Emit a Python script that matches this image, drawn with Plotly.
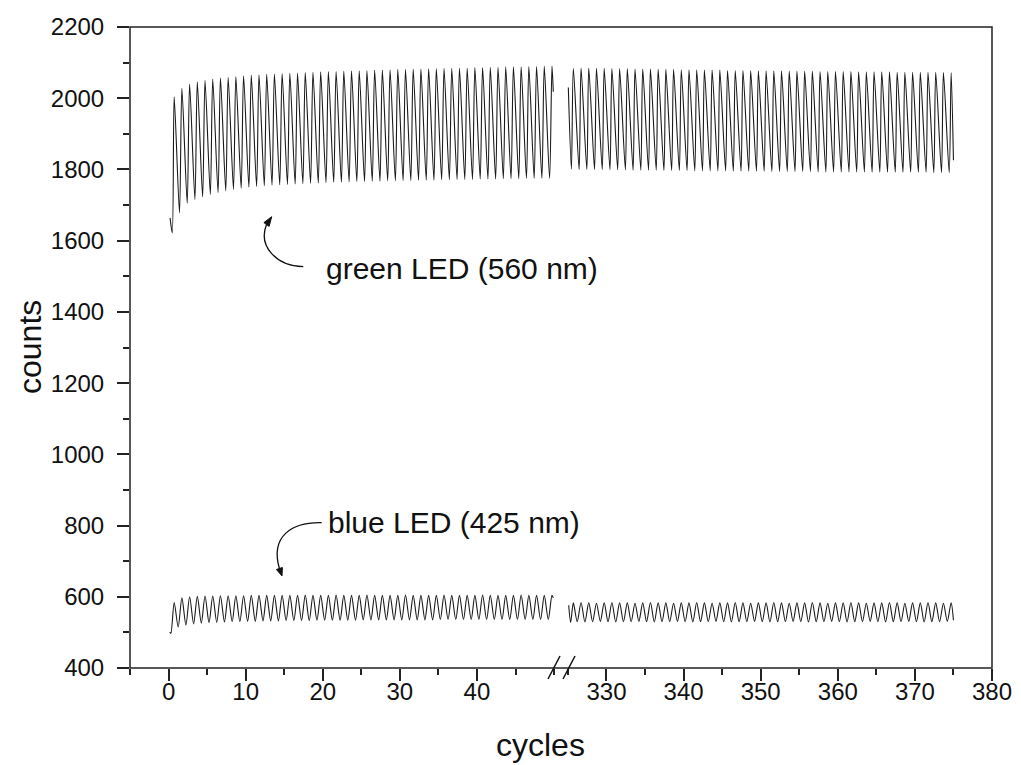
import plotly.graph_objects as go

# ---------------- data ----------------
# green LED, first segment: start points, per-cycle maxima and minima, end point
green_left_start_x = [0.2, 0.48]
green_left_start_y = [1664, 1622]
green_left_peaks = [2004, 2028, 2040, 2046, 2050, 2054, 2057, 2059, 2061, 2063,
                    2065, 2066, 2067, 2068, 2069, 2070, 2071, 2072, 2073, 2074,
                    2075, 2075, 2076, 2077, 2077, 2078, 2079, 2079, 2080, 2081,
                    2081, 2082, 2082, 2083, 2083, 2084, 2084, 2085, 2085, 2086,
                    2086, 2087, 2087, 2088, 2088, 2088, 2089, 2089, 2090, 2090]
green_left_troughs = [1678, 1705, 1716, 1723, 1730, 1735, 1740, 1744, 1747, 1750,
                      1752, 1754, 1756, 1757, 1758, 1759, 1760, 1761, 1762, 1763,
                      1764, 1764, 1765, 1766, 1766, 1767, 1767, 1768, 1768, 1769,
                      1769, 1770, 1770, 1770, 1771, 1771, 1772, 1772, 1772, 1773,
                      1773, 1773, 1774, 1774, 1774, 1775, 1775, 1775, 1775]
green_left_end = (49.9, 2018)

# green LED, second segment
green_right_start = (325.05, 2030)
green_right_peaks = [2084, 2085, 2085, 2084, 2084, 2083, 2083, 2083, 2082, 2082,
                     2082, 2081, 2081, 2081, 2080, 2080, 2080, 2079, 2079, 2079,
                     2078, 2078, 2078, 2078, 2077, 2077, 2077, 2077, 2076, 2076,
                     2076, 2076, 2075, 2075, 2075, 2075, 2075, 2074, 2074, 2074,
                     2074, 2074, 2073, 2073, 2073, 2073, 2073, 2073, 2072, 2072]
green_right_troughs = [1801, 1800, 1800, 1800, 1799, 1799, 1799, 1799, 1798, 1798,
                       1798, 1798, 1797, 1797, 1797, 1797, 1796, 1796, 1796, 1796,
                       1796, 1795, 1795, 1795, 1795, 1795, 1794, 1794, 1794, 1794,
                       1794, 1794, 1793, 1793, 1793, 1793, 1793, 1793, 1793, 1792,
                       1792, 1792, 1792, 1792, 1792, 1792, 1792, 1791, 1791, 1791]
green_right_end = (375.0, 1826)

# blue LED, first segment
blue_left_start_x = [0.15, 0.3]
blue_left_start_y = [501, 497]
blue_left_peaks = [584, 597, 600, 601, 602, 602, 603, 603, 603, 603,
                   604, 604, 604, 604, 604, 604, 604, 605, 604, 604,
                   604, 605, 604, 604, 604, 605, 604, 604, 604, 604,
                   605, 604, 604, 604, 604, 605, 604, 604, 604, 604,
                   605, 604, 604, 604, 604, 605, 604, 604, 604, 604]
blue_left_troughs = [515, 521, 524, 526, 527, 528, 529, 530, 530, 531,
                     531, 532, 532, 532, 533, 533, 533, 533, 534, 534,
                     534, 534, 534, 534, 535, 535, 535, 535, 535, 535,
                     535, 535, 535, 535, 536, 536, 536, 536, 536, 536,
                     536, 536, 536, 536, 536, 536, 536, 536, 536]
blue_left_end = (49.9, 597)

# blue LED, second segment
blue_right_start = (325.1, 576)
blue_right_first_trough = (325.35, 528)
blue_right_peaks = [583, 584, 583, 582, 583, 584, 583, 583, 582, 583,
                    584, 583, 583, 582, 583, 583, 584, 583, 582, 583,
                    583, 584, 583, 582, 583, 583, 584, 583, 582, 583,
                    583, 584, 583, 582, 583, 583, 584, 583, 582, 583,
                    583, 584, 583, 582, 583, 583, 584, 583, 582, 583]
blue_right_troughs = [530, 529, 530, 531, 530, 529, 530, 530, 531, 530,
                      529, 530, 530, 531, 530, 529, 530, 530, 531, 530,
                      529, 530, 530, 531, 530, 529, 530, 530, 531, 530,
                      529, 530, 530, 531, 530, 529, 530, 530, 531, 530,
                      529, 530, 530, 531, 530, 529, 530, 530, 531]
blue_right_end = (375.0, 534)

y_ticks = [400, 600, 800, 1000, 1200, 1400, 1600, 1800, 2000, 2200]
x_left_ticks = [0, 10, 20, 30, 40]
x_right_ticks = [330, 340, 350, 360, 370, 380]
x_left_range = [-5, 50.9]
x_right_range = [324.1, 380]

# ---------------- assemble traces ----------------
def left_series(sx, sy, peaks, troughs, tphase, end):
    xs, ys = list(sx), list(sy)
    for k, p in enumerate(peaks):
        xs.append(k + 0.73); ys.append(p)
        if k < len(troughs):
            xs.append(k + 1 + tphase); ys.append(troughs[k])
    xs.append(end[0]); ys.append(end[1])
    return xs, ys

gx1, gy1 = left_series(green_left_start_x, green_left_start_y,
                       green_left_peaks, green_left_troughs, 0.42, green_left_end)
bx1, by1 = left_series(blue_left_start_x, blue_left_start_y,
                       blue_left_peaks, blue_left_troughs, 0.25, blue_left_end)

gx2, gy2 = [green_right_start[0]], [green_right_start[1]]
for k in range(len(green_right_peaks)):
    gx2.append(325.45 + k); gy2.append(green_right_troughs[k])
    gx2.append(325.7 + k); gy2.append(green_right_peaks[k])
gx2.append(green_right_end[0]); gy2.append(green_right_end[1])

bx2, by2 = [blue_right_start[0], blue_right_first_trough[0]], [blue_right_start[1], blue_right_first_trough[1]]
for k in range(len(blue_right_peaks)):
    bx2.append(325.7 + k); by2.append(blue_right_peaks[k])
    if k < len(blue_right_troughs):
        bx2.append(326.2 + k); by2.append(blue_right_troughs[k])
bx2.append(blue_right_end[0]); by2.append(blue_right_end[1])

line_style = dict(color="#1a1a1a", width=1.1, shape="spline", smoothing=0.8)
fig = go.Figure()
fig.add_trace(go.Scatter(x=gx1, y=gy1, mode="lines", line=line_style, xaxis="x", yaxis="y"))
fig.add_trace(go.Scatter(x=bx1, y=by1, mode="lines", line=line_style, xaxis="x", yaxis="y"))
fig.add_trace(go.Scatter(x=gx2, y=gy2, mode="lines", line=line_style, xaxis="x2", yaxis="y"))
fig.add_trace(go.Scatter(x=bx2, y=by2, mode="lines", line=line_style, xaxis="x2", yaxis="y"))

# ---------------- layout ----------------
OFF = 8  # page body margin
W, H = 1021 - OFF, 765 - OFF
L, R, T, B = 130, 992, 27, 668   # plot box in page pixels
pw, ph = R - L, B - T
FONT = "Liberation Sans, Arial, sans-serif"
split = (561 - L) / pw

def P(xp, yp):
    return (xp - L) / pw, (B - yp) / ph

tick_common = dict(ticks="outside", ticklen=12, tickwidth=1.5, tickcolor="#222",
                   showgrid=False, zeroline=False, showline=False, automargin=False,
                   tickfont=dict(family=FONT, size=24, color="#111"))
minor_common = dict(ticks="outside", ticklen=6, tickwidth=1.5, tickcolor="#222", showgrid=False)

fig.update_layout(
    width=W, height=H, autosize=False,
    margin=dict(l=L - OFF, r=W - (R - OFF), t=T - OFF, b=H - (B - OFF), pad=0,
                autoexpand=False),
    paper_bgcolor="white", plot_bgcolor="white",
    showlegend=False,
    xaxis=dict(domain=[0, split], range=x_left_range, tickvals=x_left_ticks,
               minor=dict(dtick=5, tick0=0, **minor_common), anchor="y",
               ticklabelstandoff=-10, **tick_common),
    xaxis2=dict(domain=[split, 1], range=x_right_range, tickvals=x_right_ticks,
                minor=dict(dtick=5, tick0=0, **minor_common), anchor="y",
                ticklabelstandoff=-10, **tick_common),
    yaxis=dict(range=[400, 2200], tickvals=y_ticks,
               minor=dict(dtick=100, tick0=0, **minor_common), anchor="x",
               ticklabelstandoff=8, **tick_common),
)

shapes = [dict(type="rect", xref="paper", yref="paper", x0=0, y0=0, x1=1, y1=1,
               line=dict(color="#222", width=1.5))]
# axis break marks
for dx in (0, 15):
    x0, y0 = P(548 + dx, 679)
    x1, y1 = P(560 + dx, 656)
    shapes.append(dict(type="line", xref="paper", yref="paper", x0=x0, y0=y0, x1=x1, y1=y1,
                       line=dict(color="#111", width=1.5)))

def path(cmds):
    out = []
    for c in cmds:
        if isinstance(c, str):
            out.append(c)
        else:
            x, y = P(*c)
            out.append(f"{x:.5f},{y:.5f}")
    return " ".join(out)

# green arrow
shapes.append(dict(type="path", xref="paper", yref="paper",
                   path=path(["M", (303.3, 266.7), "C", (276, 266), (258, 246), (266.5, 224.5)]),
                   line=dict(color="#111", width=1.3)))
shapes.append(dict(type="path", xref="paper", yref="paper",
                   path=path(["M", (271.7, 216.7), "L", (269.1, 226.4), "L", (263.9, 222.6), "Z"]),
                   fillcolor="#111", line=dict(color="#111", width=1)))
# blue arrow
shapes.append(dict(type="path", xref="paper", yref="paper",
                   path=path(["M", (321.7, 522.7), "C", (292, 522), (270, 536), (279.4, 568.5)]),
                   line=dict(color="#111", width=1.3)))
shapes.append(dict(type="path", xref="paper", yref="paper",
                   path=path(["M", (282, 576), "L", (282.4, 567.5), "L", (276.4, 569.5), "Z"]),
                   fillcolor="#111", line=dict(color="#111", width=1)))
fig.update_layout(shapes=shapes)

ann_font = dict(family=FONT, size=30, color="#111")
title_font = dict(family=FONT, size=32, color="#111")
gx, gy = P(461.5, 268)
bxp, byp = P(453.5, 522)
cx, cy = P(540, 745)
yx, yy = P(30, 347)
fig.update_layout(annotations=[
    dict(text="green LED (560 nm)", x=gx, y=gy, xref="paper", yref="paper",
         showarrow=False, font=ann_font, xanchor="center", yanchor="middle"),
    dict(text="blue LED (425 nm)", x=bxp, y=byp, xref="paper", yref="paper",
         showarrow=False, font=ann_font, xanchor="center", yanchor="middle"),
    dict(text="cycles", x=cx, y=cy, xref="paper", yref="paper",
         showarrow=False, font=title_font, xanchor="center", yanchor="middle"),
    dict(text="counts", x=yx, y=yy, xref="paper", yref="paper", textangle=-90,
         showarrow=False, font=title_font, xanchor="center", yanchor="middle"),
])

fig.write_html("out.html")
